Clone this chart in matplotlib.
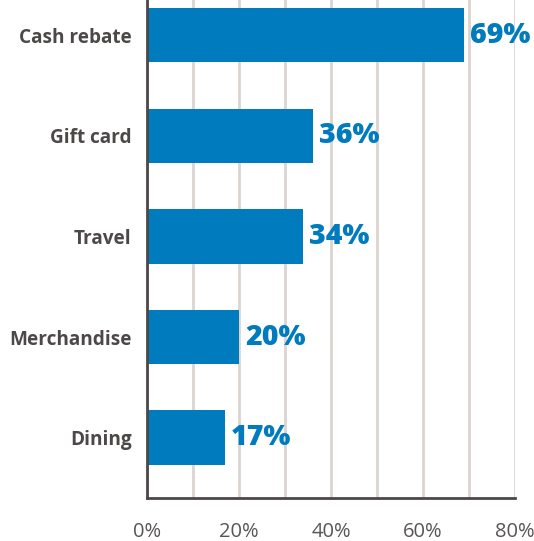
import matplotlib.pyplot as plt
from matplotlib.ticker import MultipleLocator, FuncFormatter

categories = ['Cash rebate', 'Gift card', 'Travel', 'Merchandise', 'Dining']
values = [69, 36, 34, 20, 17]

BLUE = '#007bbd'
DARK = '#4d4848'
GRID = '#dbd5cf'

plt.rcParams['font.family'] = ['Open Sans', 'DejaVu Sans']

fig = plt.figure(figsize=(5.34, 5.41), dpi=100)
ax = fig.add_axes([0.2753, 0.0795, 0.6891, 0.9205])

y = list(range(len(categories)))
ax.barh(y, values, height=0.54, color=BLUE, zorder=3)
for yi, v in zip(y, values):
    ax.text(v + 1.3, yi, f'{v}%', va='center', ha='left', color=BLUE,
            fontsize=20.5, fontweight='heavy', zorder=4)

ax.set_xlim(0, 80)
ax.set_ylim(4.6, -0.35)
ax.set_yticks(y)
ax.set_yticklabels(categories, fontsize=13.7, fontweight='bold', color=DARK)
ax.xaxis.set_major_locator(MultipleLocator(20))
ax.xaxis.set_minor_locator(MultipleLocator(10))
ax.xaxis.set_major_formatter(FuncFormatter(lambda v, p: f'{v:.0f}%'))
ax.tick_params(axis='x', which='both', length=0, labelsize=14.5,
               labelcolor='#5a5555', pad=17)
ax.tick_params(axis='y', length=0, pad=11)
ax.grid(axis='x', which='both', color=GRID, linewidth=2, zorder=0)

for s in ['top', 'right']:
    ax.spines[s].set_visible(False)
for s in ['left', 'bottom']:
    ax.spines[s].set_color(DARK)
    ax.spines[s].set_linewidth(2)
    ax.spines[s].set_zorder(5)

fig.savefig('out.png', dpi=100)
